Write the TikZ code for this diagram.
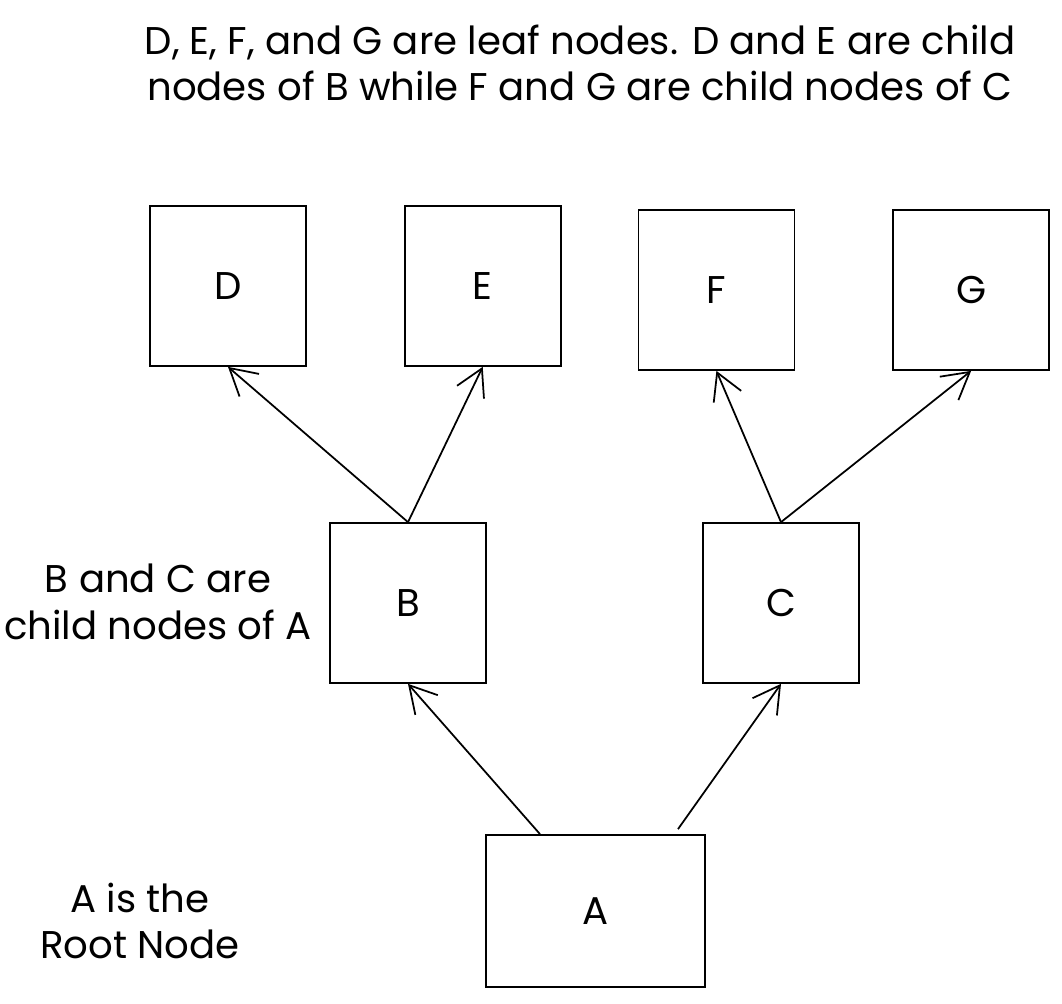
\documentclass[tikz,border=0pt]{standalone}
\usepackage{fontspec}
\setmainfont{Poppins}
\usetikzlibrary{arrows.meta,calc,positioning}

\begin{document}
\begin{tikzpicture}[x=0.02cm,y=-0.02cm,font=\fontsize{22}{26.5}\selectfont,
          line width=1pt,node distance=1.94cm,
          treeNode/.style={
            draw,
            rectangle,
            align=center,
            minimum width=3.12cm,
            minimum height=3.2cm,
          inner sep=0cm},
          rootNode/.style={
            treeNode,
            minimum width=4.38cm,
            minimum height=3.04cm},
          note/.style={
            align=center,
            inner sep=0cm},
          edge/.style={
            -{Straight Barb[length=15pt,width=17pt]}}
          ]
          \useasboundingbox (0,0) rectangle (1062,1004);

          % leaves
          \node[treeNode] (nodeD) at (228,286) {D};
          \node[treeNode, right=of nodeD] (nodeE) {E};
          \node[treeNode, right=1.52cm of nodeE, yshift=-0.08cm] (nodeF) {F};
          \node[treeNode, right=of nodeF] (nodeG) {G};

          % children of the root
          \node[treeNode] (nodeB) at (408,603) {B};
          \node[treeNode] (nodeC) at (781,603) {C};

          % root
          \node[rootNode] (nodeA) at (595.5,911) {A};

          \node[note] (leafNote) at (580,63) {D, E, F, and G are leaf nodes. D and E are child\\ nodes of B while F and G are child nodes of C};
          \node[note] (childNote) at (158,602) {B and C are\\child nodes of A};
          \node[note] (rootNote) at (140,921) {A is the\\ Root Node};

          \draw[edge] (nodeB.north) -- (nodeD.south);
          \draw[edge] (nodeB.north) -- (nodeE.south);
          \draw[edge] (nodeC.north) -- (nodeF.south);
          \draw[edge] (nodeC.north) -- (nodeG.south);
          \draw[edge] ([xshift=-1.11cm]nodeA.north) -- (nodeB.south);
          \draw[edge] ([xshift=1.65cm,yshift=0.1cm]nodeA.north) -- (nodeC.south);
        \end{tikzpicture}
\end{document}
